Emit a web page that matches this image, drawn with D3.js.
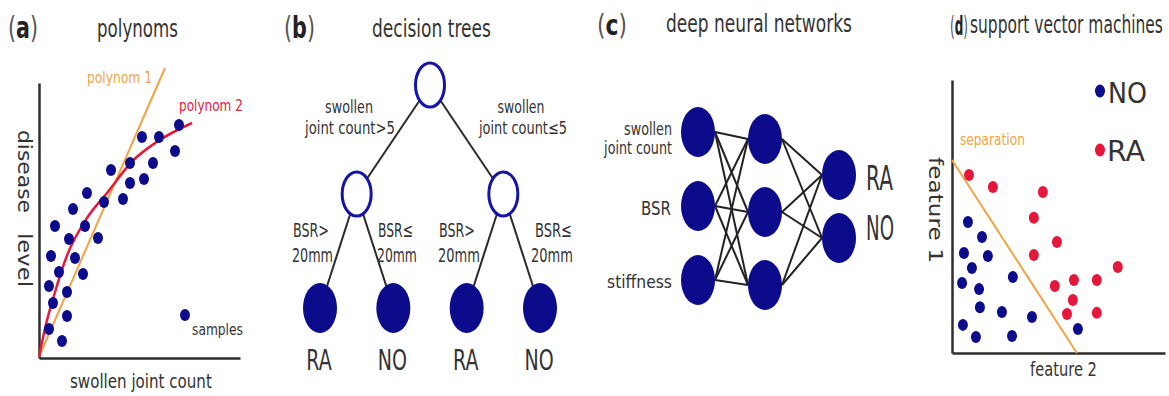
<!DOCTYPE html>
<html>
<head>
<meta charset="utf-8">
<script src="https://cdn.jsdelivr.net/npm/d3@7"></script>
<style>
  html, body { margin: 0; padding: 0; background: #fff; }
  svg { display: block; font-family: "DejaVu Sans", sans-serif; }
</style>
</head>
<body>
<svg id="fig" width="1169" height="396"></svg>
<script>
// ---------- data ----------
// (a) regression samples: [swollen joint count, disease level]
const regressionSamples = [
  [7.0, 9.32], [5.15, 8.84], [6.0, 8.84], [6.8, 8.28], [3.6, 7.52],
  [4.55, 7.8], [5.7, 7.8], [5.25, 7.16], [4.55, 7.0], [2.4, 6.6],
  [4.2, 6.36], [3.25, 6.24], [1.7, 5.96], [0.8, 5.28], [2.3, 5.28],
  [1.5, 4.76], [2.95, 4.8], [0.6, 4.08], [1.8, 4.0], [1.0, 3.44],
  [2.2, 3.36], [0.5, 2.88], [1.4, 2.64], [0.7, 2.2], [1.4, 1.68],
  [0.5, 1.16], [1.15, 0.68]
];
// first-order fit (straight line) and second-order fit (curve)
const polynom1 = [[0, 0.05], [6.3, 11.6]];
const polynom2 = [
  [0, 0.05], [0.35, 1.35], [0.75, 2.5], [1.4, 4.1], [2.4, 5.6],
  [3.4, 6.6], [4.7, 7.9], [5.9, 8.65], [7.65, 9.4]
];

// (b) decision tree
const treeSplits = ["swollen joint count>5", "swollen joint count\u22645"];
const treeLeafClasses = ["RA", "NO", "RA", "NO"];
const bsrSplits = ["BSR>", "BSR\u2264"];

// (c) neural network layers
const inputFeatures = ["swollen joint count", "BSR", "stiffness"];
const hiddenUnits = ["h1", "h2", "h3"];
const outputClasses = ["RA", "NO"];

// (d) support vector machine samples: [feature 2, feature 1]
const raSamples = [
  [0.81, 6.52], [1.95, 6.08], [4.33, 5.9], [3.9, 4.95], [5.0, 4.07],
  [3.9, 3.59], [7.9, 3.15], [4.9, 2.45], [5.81, 2.67], [6.9, 2.67],
  [5.76, 1.94], [5.48, 1.43], [6.9, 1.47]
];
const noSamples = [
  [0.76, 4.8], [1.43, 4.25], [0.57, 3.66], [1.71, 3.55], [0.95, 3.11],
  [2.9, 2.78], [0.48, 2.56], [1.29, 2.34], [1.33, 1.68], [2.38, 1.5],
  [3.81, 1.32], [0.52, 1.03], [1.14, 0.59], [2.86, 0.62], [6.0, 0.88]
];
const separation = [[0, 7.07], [5.95, 0]];

// ---------- styles ----------
const BLUE = "#0b0b8c";
const RING = "#1414a6";
const RED = "#e5183c";
const ORANGE = "#f2a444";
const TXT = "#333";
const AXIS = "#2e2e2e";

const svg = d3.select("#fig");

// Places a text and stretches/squeezes it horizontally to a given width.
function label(g, str, x, y, o = {}) {
  const t = g.append("text")
    .attr("font-size", o.size || 16)
    .attr("text-anchor", o.anchor || "start")
    .attr("fill", o.fill || TXT)
    .text(str);
  let sx = o.sx || 1;
  if (o.width) sx = o.width / t.node().getComputedTextLength();
  t.attr("transform", `translate(${x},${y})` + (o.rotate ? ` rotate(${o.rotate})` : "") +
    ` scale(${sx},${o.sy || 1})`);
  return t;
}

// Panel tag such as "(a)" with a bold letter.
function tag(g, letter, x, y, size, width) {
  const t = g.append("text").attr("font-size", size).attr("fill", TXT);
  t.append("tspan").attr("fill", "#555").text("(");
  t.append("tspan").attr("font-weight", "bold").attr("fill", "#222").text(letter);
  t.append("tspan").attr("fill", "#555").text(")");
  const sx = width / t.node().getComputedTextLength();
  t.attr("transform", `translate(${x},${y}) scale(${sx},1)`);
}

function styleAxis(sel) {
  sel.select(".domain").attr("stroke", AXIS).attr("stroke-width", 2.5);
}

// ================= (a) polynoms =================
{
  const g = svg.append("g");
  const x = d3.scaleLinear().domain([0, 10.05]).range([39, 240]);
  const y = d3.scaleLinear().domain([0, 11]).range([358, 83]);

  tag(g, "a", 8, 38, 30, 30);
  label(g, "polynoms", 97, 37, { size: 24, width: 81 });

  g.append("g").attr("transform", `translate(0,${y(0)})`)
    .call(d3.axisBottom(x).ticks(0).tickSizeOuter(0)).call(styleAxis);
  g.append("g").attr("transform", `translate(${x(0)},0)`)
    .call(d3.axisLeft(y).ticks(0).tickSizeOuter(0)).call(styleAxis);

  const line = d3.line().x(d => x(d[0])).y(d => y(d[1]));
  g.append("path").datum(polynom1).attr("d", line)
    .attr("fill", "none").attr("stroke", ORANGE).attr("stroke-width", 2);
  g.append("path").datum(polynom2).attr("d", line.curve(d3.curveMonotoneX))
    .attr("fill", "none").attr("stroke", RED).attr("stroke-width", 2.5);

  g.selectAll("ellipse.s").data(regressionSamples).join("ellipse")
    .attr("cx", d => x(d[0])).attr("cy", d => y(d[1]))
    .attr("rx", 5).attr("ry", 6).attr("fill", BLUE);

  label(g, "polynom 1", 87, 83, { size: 15, width: 65, fill: ORANGE });
  label(g, "polynom 2", 179, 111, { size: 15, width: 64, fill: RED });

  label(g, "disease", 18, 130, { size: 19, width: 83, rotate: 90 });
  label(g, "level", 18, 233, { size: 19, width: 54, rotate: 90 });
  label(g, "swollen joint count", 70, 388, { size: 19, width: 142 });

  g.append("ellipse").attr("cx", 185).attr("cy", 315).attr("rx", 5).attr("ry", 6).attr("fill", BLUE);
  label(g, "samples", 192, 335, { size: 15, width: 51 });
}

// ================= (b) decision trees =================
{
  const g = svg.append("g");
  tag(g, "b", 284, 38, 30, 31);
  label(g, "decision trees", 372, 37, { size: 24, width: 119 });

  const root = d3.hierarchy({
    children: [
      { children: treeLeafClasses.slice(0, 2).map(c => ({ cls: c })) },
      { children: treeLeafClasses.slice(2, 4).map(c => ({ cls: c })) }
    ]
  });
  d3.tree().size([1, 1]).separation(() => 1)(root);
  const leafXs = root.leaves().map(d => d.x);
  const x = d3.scaleLinear().domain([d3.min(leafXs), d3.max(leafXs)]).range([320, 540]);
  const y = d3.scaleOrdinal().domain([0, 1, 2]).range([85, 194, 308]);

  g.selectAll("line.e").data(root.links()).join("line")
    .attr("x1", d => x(d.source.x)).attr("y1", d => y(d.source.depth))
    .attr("x2", d => x(d.target.x)).attr("y2", d => y(d.target.depth))
    .attr("stroke", "#2a2a2a").attr("stroke-width", 2);

  const inner = root.descendants().filter(d => d.children);
  g.selectAll("ellipse.n").data(inner).join("ellipse")
    .attr("cx", d => x(d.x)).attr("cy", d => y(d.depth))
    .attr("rx", 14.5).attr("ry", 22)
    .attr("fill", "#fff").attr("stroke", RING).attr("stroke-width", 3);

  const leaves = root.leaves();
  g.selectAll("ellipse.l").data(leaves).join("ellipse")
    .attr("cx", d => x(d.x)).attr("cy", d => y(d.depth))
    .attr("rx", 17).attr("ry", 25).attr("fill", BLUE);

  leaves.forEach(d => label(g, d.data.cls, x(d.x) - 1, 370, { size: 28, anchor: "middle", sx: 0.68 }));

  // split conditions
  const [l0, l1] = treeSplits.map(s => [s.slice(0, 7), s.slice(8)]);
  label(g, l0[0], 349, 113, { size: 17, anchor: "middle", width: 48 });
  label(g, l0[1], 350, 134, { size: 17, anchor: "middle", width: 90 });
  label(g, l1[0], 521, 113, { size: 17, anchor: "middle", width: 47 });
  label(g, l1[1], 523, 134, { size: 17, anchor: "middle", width: 88 });

  const bsrPos = [[293, 36, 292, 41], [378, 35, 377, 40], [439, 36, 438, 42], [535, 37, 531, 42]];
  bsrPos.forEach((p, i) => {
    label(g, bsrSplits[i % 2], p[0], 237, { size: 20, width: p[1] });
    label(g, "20mm", p[2], 262, { size: 20, width: p[3] });
  });
}

// ================= (c) deep neural networks =================
{
  const g = svg.append("g");
  tag(g, "c", 597, 35, 28, 30);
  label(g, "deep neural networks", 666, 32, { size: 24, width: 186 });

  const layerX = d3.scaleOrdinal().domain(["in", "hid", "out"]).range([698, 765, 839]);
  const yIn = d3.scalePoint().domain(inputFeatures).range([132, 280]);
  const yHid = d3.scalePoint().domain(hiddenUnits).range([139, 285]);
  const yOut = d3.scalePoint().domain(outputClasses).range([175, 238]);
  const RX = 17, RY = 25;

  const nodes = [
    ...inputFeatures.map(k => ({ x: layerX("in"), y: yIn(k) })),
    ...hiddenUnits.map(k => ({ x: layerX("hid"), y: yHid(k) })),
    ...outputClasses.map(k => ({ x: layerX("out"), y: yOut(k) }))
  ];
  const links = [];
  inputFeatures.forEach(a => hiddenUnits.forEach(b =>
    links.push([layerX("in") + RX, yIn(a), layerX("hid") - RX, yHid(b)])));
  hiddenUnits.forEach(a => outputClasses.forEach(b =>
    links.push([layerX("hid") + RX, yHid(a), layerX("out") - RX, yOut(b)])));

  g.selectAll("line.w").data(links).join("line")
    .attr("x1", d => d[0]).attr("y1", d => d[1]).attr("x2", d => d[2]).attr("y2", d => d[3])
    .attr("stroke", "#222").attr("stroke-width", 2);

  g.selectAll("ellipse.u").data(nodes).join("ellipse")
    .attr("cx", d => d.x).attr("cy", d => d.y).attr("rx", RX).attr("ry", RY).attr("fill", BLUE);

  label(g, "swollen", 672, 135, { size: 18, anchor: "end", width: 48 });
  label(g, "joint count", 672, 154, { size: 18, anchor: "end", width: 68 });
  label(g, inputFeatures[1], 671, 215, { size: 20, anchor: "end", width: 30 });
  label(g, inputFeatures[2], 672, 288, { size: 18, anchor: "end", width: 65 });

  label(g, outputClasses[0], 866, 190, { size: 33, width: 27 });
  label(g, outputClasses[1], 866, 240, { size: 33, width: 28 });
}

// ================= (d) support vector machines =================
{
  const g = svg.append("g");
  tag(g, "d", 950, 35, 26, 18);
  label(g, "support vector machines", 970, 33, { size: 24, width: 193 });

  const x = d3.scaleLinear().domain([0, 10.15]).range([952, 1165]);
  const y = d3.scaleLinear().domain([0, 10]).range([353, 80]);

  g.append("g").attr("transform", `translate(0,${y(0)})`)
    .call(d3.axisBottom(x).ticks(0).tickSizeOuter(0)).call(styleAxis);
  g.append("g").attr("transform", `translate(${x(0)},0)`)
    .call(d3.axisLeft(y).ticks(0).tickSizeOuter(0)).call(styleAxis);

  g.append("path").datum(separation)
    .attr("d", d3.line().x(d => x(d[0])).y(d => y(d[1])))
    .attr("stroke", ORANGE).attr("stroke-width", 2).attr("fill", "none");

  g.selectAll("ellipse.ra").data(raSamples).join("ellipse")
    .attr("cx", d => x(d[0])).attr("cy", d => y(d[1]))
    .attr("rx", 5).attr("ry", 6).attr("fill", RED);
  g.selectAll("ellipse.no").data(noSamples).join("ellipse")
    .attr("cx", d => x(d[0])).attr("cy", d => y(d[1]))
    .attr("rx", 5).attr("ry", 6).attr("fill", BLUE);

  label(g, "separation", 960, 145, { size: 16, width: 65, fill: ORANGE });
  label(g, "feature 1", 929, 157, { size: 19, width: 106, rotate: 90 });
  label(g, "feature 2", 1030, 376, { size: 20, width: 67 });

  g.append("ellipse").attr("cx", 1100).attr("cy", 91).attr("rx", 5).attr("ry", 6.5).attr("fill", BLUE);
  g.append("ellipse").attr("cx", 1100).attr("cy", 150).attr("rx", 5).attr("ry", 6.5).attr("fill", RED);
  label(g, "NO", 1108, 103, { size: 29, width: 39 });
  label(g, "RA", 1107, 161, { size: 29, width: 38 });
}
</script>
</body>
</html>
